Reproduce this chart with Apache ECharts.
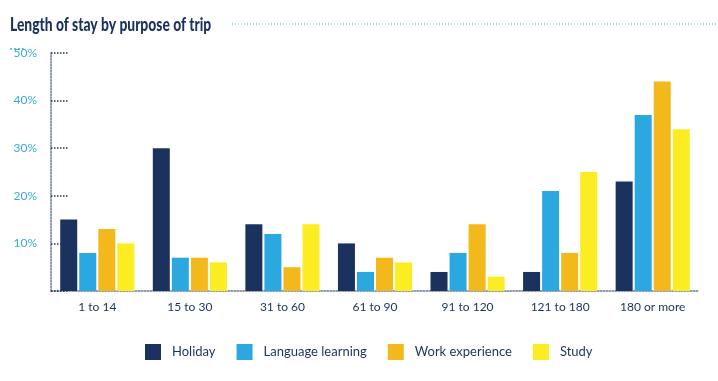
<!DOCTYPE html>
<html><head><meta charset="utf-8">
<script src="https://cdn.jsdelivr.net/npm/echarts@6/dist/echarts.min.js"></script>
<style>html,body{margin:0;padding:0;background:#fff}#c{width:718px;height:381px}</style>
</head><body><div id="c"></div>
<script>
const titleText = 'Length of stay by purpose of trip';
const categories = ['1 to 14','15 to 30','31 to 60','61 to 90','91 to 120','121 to 180','180 or more'];
const holiday = [15,30,14,10,4,4,23];
const language = [8,7,12,4,8,21,37];
const work = [13,7,5,7,14,8,44];
const study = [10,6,14,6,3,25,34];
const yTicks = [0,10,20,30,40,50];

const chart = echarts.init(document.getElementById('c'));
const navy = '#1b325f';
const font = 'Lato';
function bar(name, data, color){
  return {name, type:'bar', data, barWidth:17, barGap:'12%', itemStyle:{color}};
}
chart.setOption({
  animation:false,
  graphic:[
    {type:'text', x:10, y:16, scaleX:0.77, style:{text:titleText, font:'900 18px Lato', fill:navy, verticalAlign:'top'}},
    {type:'line', shape:{x1:232,y1:24,x2:718,y2:24}, style:{stroke:'#3aa9e0', lineWidth:1, lineDash:[1,2]}},
    {type:'line', shape:{x1:10,y1:49,x2:25,y2:49}, style:{stroke:'#3aa9e0', lineWidth:1.5, lineDash:[2,2]}}
  ],
  legend:{bottom:16, left:140, itemWidth:16, itemHeight:16, itemGap:21, icon:'rect',
    textStyle:{fontFamily:font, fontSize:13, color:navy, padding:[0,0,0,6]}},
  grid:{left:51, right:19, top:53, bottom:90},
  xAxis:{type:'category', data:categories,
    axisLine:{lineStyle:{color:'#6b7a99', type:'dotted', width:1.5}},
    axisTick:{show:false},
    axisLabel:{fontFamily:font, fontSize:12, color:navy, margin:10}},
  yAxis:{type:'value', min:0, max:50, interval:10,
    axisLine:{show:true, lineStyle:{color:'#6b7a99', type:'dotted', width:1.5}},
    axisTick:{show:true, inside:true, length:18, lineStyle:{color:navy, type:'dotted', width:1.5}},
    splitLine:{show:false},
    axisLabel:{fontFamily:font, fontSize:12, color:'#3aa9e0', margin:14,
      formatter:v => v===0 ? '' : v+'%'}},
  series:[
    bar('Holiday', holiday, navy),
    bar('Language learning', language, '#2ba8e0'),
    bar('Work experience', work, '#f2b81c'),
    bar('Study', study, '#fbed21')
  ]
});
</script></body></html>
